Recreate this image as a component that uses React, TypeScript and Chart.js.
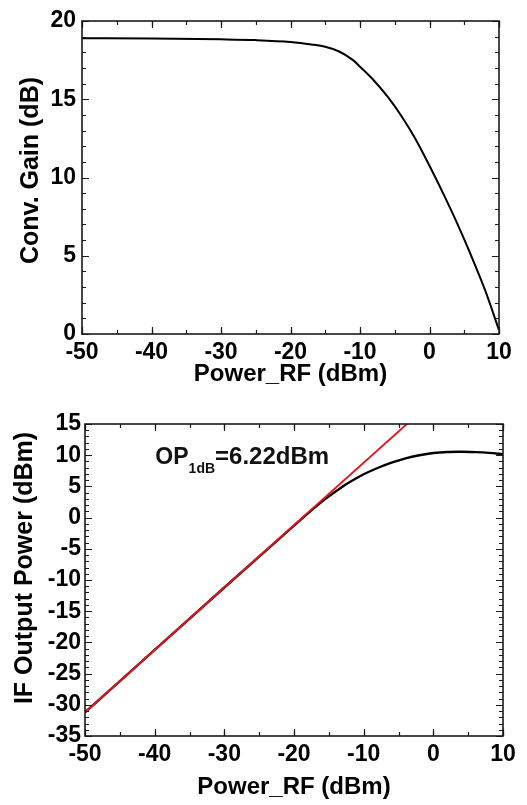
import React, { useEffect, useRef } from "react";
import { Chart, registerables } from "chart.js";

Chart.register(...registerables);

const FONT = "'Liberation Sans', Arial, Helvetica, sans-serif";

// ---- Top chart: conversion gain vs RF power ----
const gainPower = [-50, -40, -30, -25, -20, -17, -15, -13, -11, -10, -8, -6, -4, -2, 0, 2, 4, 6, 8, 10];
const gainValues = [18.9, 18.88, 18.83, 18.78, 18.66, 18.5, 18.35, 18.05, 17.5, 17.08, 16.2, 15.15, 13.9, 12.45, 10.75, 8.95, 7.05, 5.0, 2.8, 0.25];

// ---- Bottom chart: IF output power vs RF power ----
const ifPower = [-50, -40, -30, -20, -17, -15, -13, -11, -10, -8, -6, -4, -2, 0, 2, 4, 6, 8, 10];
const ifOutput = [-31.2, -21.2, -11.2, -1.3, 1.65, 3.4, 5.0, 6.35, 6.95, 7.95, 8.8, 9.5, 10.0, 10.35, 10.52, 10.56, 10.5, 10.37, 10.15];

// linear (small-signal) fit line
const fitPower = [-50, -3.8];
const fitOutput = [-31.2, 15];

// annotation
const opLabelMain = "OP";
const opLabelSub = "1dB";
const opLabelRest = "=6.22dBm";
const opLabelAt = [-39.9, 8.6]; // x (dBm), y (dBm) of the text baseline start

const xTitle = "Power_RF (dBm)";
const topYTitle = "Conv. Gain (dB)";
const bottomYTitle = "IF Output Power (dBm)";

const framePlugin = {
  id: "frame",
  afterDatasetsDraw(chart: any, _args: any, opts: any) {
    const { ctx, chartArea: a } = chart;
    const x = chart.scales.x;
    const y = chart.scales.y;
    ctx.save();
    ctx.strokeStyle = "#1a1a1a";
    ctx.lineWidth = 1.2;
    const ticksX = (step: number, len: number) => {
      for (let v = x.min; v <= x.max + 1e-9; v += step) {
        const px = Math.round(x.getPixelForValue(v)) + 0.5;
        ctx.beginPath();
        ctx.moveTo(px, a.bottom);
        ctx.lineTo(px, a.bottom - len);
        ctx.moveTo(px, a.top);
        ctx.lineTo(px, a.top + len);
        ctx.stroke();
      }
    };
    const ticksY = (step: number, len: number) => {
      for (let v = y.min; v <= y.max + 1e-9; v += step) {
        const py = Math.round(y.getPixelForValue(v)) + 0.5;
        ctx.beginPath();
        ctx.moveTo(a.left, py);
        ctx.lineTo(a.left + len, py);
        ctx.moveTo(a.right, py);
        ctx.lineTo(a.right - len, py);
        ctx.stroke();
      }
    };
    ticksX(opts.xMinor, 4);
    ticksX(opts.xMajor, 7);
    ticksY(opts.yMinor, 4);
    ticksY(opts.yMajor, 7);
    ctx.lineWidth = 1.6;
    ctx.strokeRect(a.left, a.top, a.right - a.left, a.bottom - a.top);
    ctx.restore();
  },
};

// rotated y-axis title, centred a little above the middle of the plot area
const yTitlePlugin = {
  id: "yTitle",
  afterDraw(chart: any, _args: any, opts: any) {
    const { ctx, chartArea: a } = chart;
    ctx.save();
    ctx.translate(opts.x, (a.top + a.bottom) / 2 + opts.dy);
    ctx.rotate(-Math.PI / 2);
    ctx.fillStyle = "#000";
    ctx.textAlign = "center";
    ctx.textBaseline = "middle";
    ctx.font = `bold ${opts.size}px ${FONT}`;
    ctx.fillText(opts.text, 0, 0);
    ctx.restore();
  },
};

const opLabelPlugin = {
  id: "opLabel",
  afterDatasetsDraw(chart: any) {
    const { ctx } = chart;
    const px = chart.scales.x.getPixelForValue(opLabelAt[0]);
    const py = chart.scales.y.getPixelForValue(opLabelAt[1]);
    ctx.save();
    ctx.fillStyle = "#111";
    ctx.textBaseline = "alphabetic";
    ctx.textAlign = "left";
    ctx.font = `bold 23px ${FONT}`;
    ctx.fillText(opLabelMain, px, py);
    let cx = px + ctx.measureText(opLabelMain).width;
    ctx.font = `bold 14px ${FONT}`;
    ctx.fillText(opLabelSub, cx, py + 9);
    cx += ctx.measureText(opLabelSub).width;
    ctx.font = `bold 24px ${FONT}`;
    ctx.fillText(opLabelRest, cx, py);
    ctx.restore();
  },
};

type PlotProps = {
  width: number;
  height: number;
  datasets: any[];
  yMin: number;
  yMax: number;
  yStep: number;
  yTitle: string;
  yWidth: number;
  xHeight: number;
  pad: { left: number; right: number; top: number; bottom: number };
  yTitleX: number;
  yTitleDy: number;
  xTitlePad: number;
  yTickPad: number;
  xTickPad: number;
  extraPlugins?: any[];
};

function Plot(p: PlotProps) {
  const ref = useRef<HTMLCanvasElement | null>(null);
  useEffect(() => {
    if (!ref.current) return;
    const tickFont = { family: FONT, size: 23, weight: "bold" as const };
    const titleFont = { family: FONT, size: 24, weight: "bold" as const };
    const chart = new Chart(ref.current, {
      type: "line",
      data: { datasets: p.datasets },
      plugins: [framePlugin, yTitlePlugin, ...(p.extraPlugins || [])],
      options: {
        responsive: false,
        animation: false,
        devicePixelRatio: 1,
        layout: { padding: p.pad },
        elements: { point: { radius: 0 } },
        plugins: {
          legend: { display: false },
          tooltip: { enabled: false },
          frame: { xMinor: 5, xMajor: 10, yMinor: 1, yMajor: p.yStep },
          yTitle: { text: p.yTitle, x: p.yTitleX, dy: p.yTitleDy, size: 25 },
        } as any,
        scales: {
          x: {
            type: "linear",
            min: -50,
            max: 10,
            grid: { display: false, drawTicks: false },
            border: { display: false },
            ticks: { stepSize: 10, color: "#000", font: tickFont, padding: p.xTickPad, maxRotation: 0 },
            title: { display: true, text: xTitle, color: "#000", font: titleFont, padding: { top: 0, bottom: p.xTitlePad } },
            afterFit: (s: any) => {
              s.height = p.xHeight;
            },
          },
          y: {
            type: "linear",
            min: p.yMin,
            max: p.yMax,
            grid: { display: false, drawTicks: false },
            border: { display: false },
            ticks: { stepSize: p.yStep, color: "#000", font: tickFont, padding: p.yTickPad },
            afterFit: (s: any) => {
              s.width = p.yWidth;
            },
          },
        },
      } as any,
    });
    return () => chart.destroy();
  }, []);
  return <canvas ref={ref} width={p.width} height={p.height} style={{ display: "block", width: p.width, height: p.height }} />;
}

export default function App() {
  const topSets = [
    {
      data: gainPower.map((x, i) => ({ x, y: gainValues[i] })),
      borderColor: "#000",
      borderWidth: 2,
      cubicInterpolationMode: "monotone",
      fill: false,
    },
  ];
  const bottomSets = [
    {
      data: fitPower.map((x, i) => ({ x, y: fitOutput[i] })),
      borderColor: "#e3161b",
      borderWidth: 1.8,
      fill: false,
    },
    {
      data: ifPower.map((x, i) => ({ x, y: ifOutput[i] })),
      borderColor: "#000",
      borderWidth: 2.4,
      cubicInterpolationMode: "monotone",
      fill: false,
    },
  ];
  return (
    <div style={{ position: "absolute", left: 0, top: 0, width: 527, height: 805, background: "#fff" }}>
      <Plot
        width={527}
        height={400}
        datasets={topSets}
        yMin={0}
        yMax={20}
        yStep={5}
        yTitle={topYTitle}
        yWidth={82}
        xHeight={66}
        pad={{ left: 0, right: 28, top: 21, bottom: 0 }}
        yTitleX={31}
        yTitleDy={-7}
        xTitlePad={11}
        yTickPad={6}
        xTickPad={5}
      />
      <Plot
        width={527}
        height={405}
        datasets={bottomSets}
        yMin={-35}
        yMax={15}
        yStep={5}
        yTitle={bottomYTitle}
        yWidth={85}
        xHeight={69}
        pad={{ left: 0, right: 24, top: 24, bottom: 0 }}
        yTitleX={25}
        yTitleDy={-12}
        xTitlePad={3}
        yTickPad={4}
        xTickPad={5}
        extraPlugins={[opLabelPlugin]}
      />
    </div>
  );
}
